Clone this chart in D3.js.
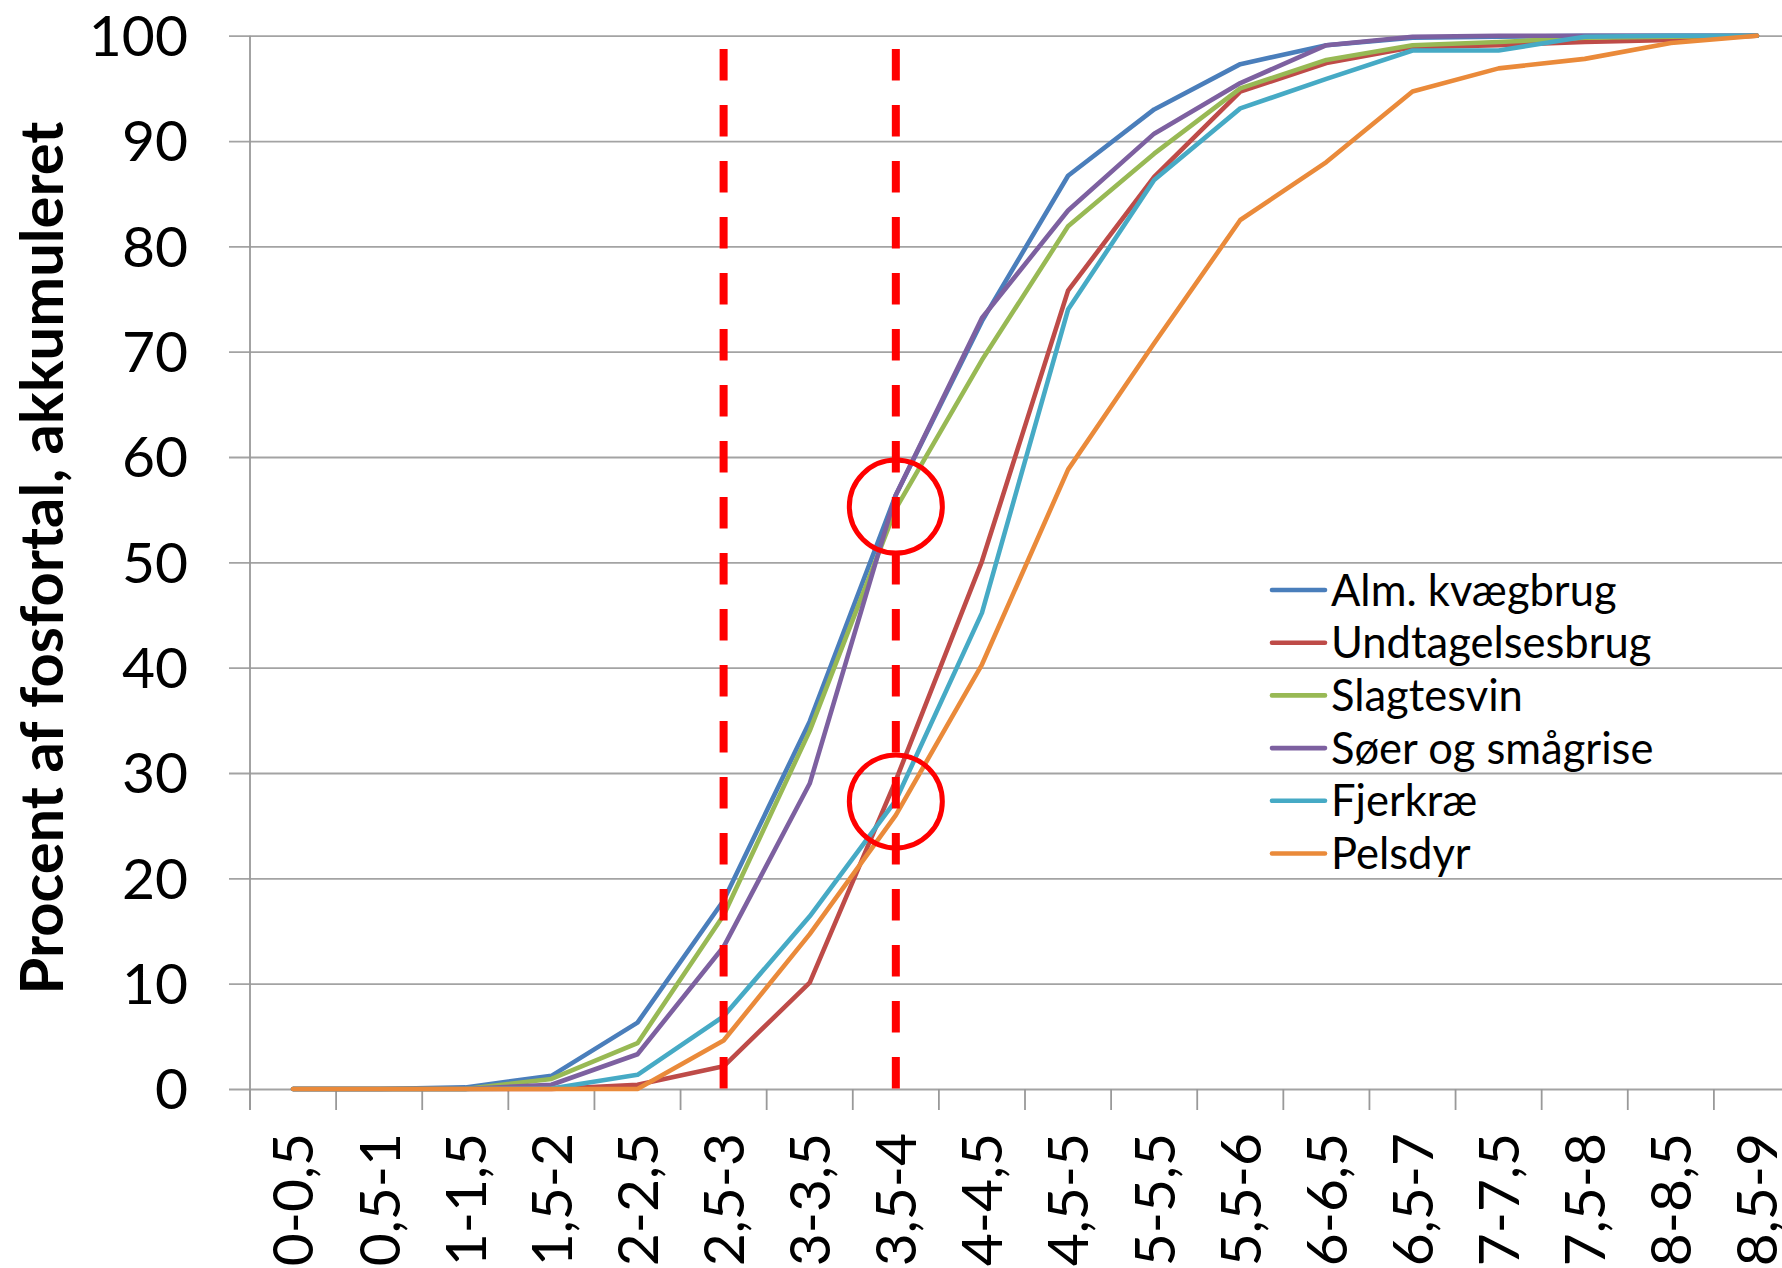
<!DOCTYPE html>
<html>
<head>
<meta charset="utf-8">
<script src="https://cdn.jsdelivr.net/npm/d3@7"></script>
<style>
  html, body { margin: 0; padding: 0; background: #fff; }
  svg { display: block; }
  text { font-family: Lato, "Open Sans", sans-serif; fill: #000; }
</style>
</head>
<body>
<svg id="chart" width="1782" height="1268"></svg>
<script>
// ---------- data ----------
const categories = ["0-0,5","0,5-1","1-1,5","1,5-2","2-2,5","2,5-3","3-3,5","3,5-4","4-4,5","4,5-5",
                    "5-5,5","5,5-6","6-6,5","6,5-7","7-7,5","7,5-8","8-8,5","8,5-9"];
const seriesNames = ["Alm. kvægbrug","Undtagelsesbrug","Slagtesvin","Søer og smågrise","Fjerkræ","Pelsdyr"];
const almKvaegbrug    = [0,0,0.15,1.25,6.3,17.9,34.9,56.4,72.9,86.7,93.0,97.3,99.1,99.8,99.9,100,100,100];
const undtagelsesbrug = [0,0,0,0,0.4,2.15,10.1,29.3,50.1,75.8,86.6,94.7,97.4,98.9,99.1,99.4,99.6,100];
const slagtesvin      = [0,0,0,0.95,4.35,16.5,34.0,55.1,69.2,81.9,88.8,95.0,97.7,99.1,99.4,99.8,99.9,100];
const soerOgSmaagrise = [0,0,0,0.4,3.3,13.5,29.0,56.4,73.2,83.4,90.7,95.5,99.1,99.9,100,100,100,100];
const fjerkrae        = [0,0,0,0.05,1.35,6.9,16.4,27.4,45.2,74.0,86.3,93.1,95.9,98.6,98.6,99.9,100,100];
const pelsdyr         = [0,0,0,0,0,4.6,14.7,26.0,40.3,58.8,70.8,82.5,88.0,94.7,96.9,97.8,99.3,100];
const seriesValues = [almKvaegbrug, undtagelsesbrug, slagtesvin, soerOgSmaagrise, fjerkrae, pelsdyr];
const seriesColors = ["#4A7EBB","#BE4B48","#98B954","#7D60A0","#46AAC5","#EA8A3A"];
const yTicks = [0,10,20,30,40,50,60,70,80,90,100];
const markerCategories = ["2,5-3","3,5-4"];          // dashed red lines
const circleCategory = "3,5-4";
const circleValues = [55.3, 27.3];                    // red circles
const yTitle = "Procent af fosfortal, akkumuleret";

// ---------- layout ----------
const svg = d3.select("#chart");
const W = 1782, H = 1268;
const L = 250, R = 1800, T = 35.7, B = 1089;
svg.append("rect").attr("width", W).attr("height", H).attr("fill", "#fff");

const x = d3.scaleBand().domain(categories).range([L, R]).padding(0);
const y = d3.scaleLinear().domain([0, 100]).range([B, T]);
const bw = x.bandwidth();
const cx = c => x(c) + bw / 2;

// gridlines + y ticks
const yAxis = d3.axisLeft(y).tickValues(yTicks).tickSize(-(R - L + 21)).tickFormat("");
const gy = svg.append("g").attr("transform", `translate(${L - 21},0)`).call(yAxis);
gy.select(".domain").remove();
gy.selectAll(".tick line").attr("stroke", "#a3a3a3").attr("stroke-width", 1.8);

// y axis line
svg.append("line").attr("x1", L).attr("x2", L).attr("y1", y(100)).attr("y2", B + 21)
  .attr("stroke", "#999").attr("stroke-width", 1.8);

// x ticks at category boundaries
const boundaries = categories.map(c => x(c)).concat([x(categories[categories.length - 1]) + bw]);
svg.append("g").selectAll("line").data(boundaries).join("line")
  .attr("x1", d => d).attr("x2", d => d).attr("y1", B).attr("y2", B + 21)
  .attr("stroke", "#999").attr("stroke-width", 1.8);

// y tick labels
svg.append("g").selectAll("text").data(yTicks).join("text")
  .attr("x", 188).attr("y", d => y(d) + 20.4)
  .attr("text-anchor", "end").attr("font-size", 57)
  .text(d => d);

// x tick labels
svg.append("g").selectAll("text").data(categories).join("text")
  .attr("transform", d => `translate(${cx(d) + 20.4},1133) rotate(-90)`)
  .attr("text-anchor", "end").attr("font-size", 57)
  .text(d => d);

// y title
const title = svg.append("text")
  .attr("transform", "translate(63.3,558) rotate(-90)")
  .attr("text-anchor", "middle").attr("font-weight", "bold").attr("font-size", 57)
  .text(yTitle);
const tl = title.node().getComputedTextLength();
if (tl > 0) title.attr("font-size", 57 * 873 / tl);

// series lines
const line = d3.line().x((d, i) => cx(categories[i])).y(d => y(d));
svg.append("g").selectAll("path").data(seriesValues).join("path")
  .attr("d", d => line(d))
  .attr("fill", "none")
  .attr("stroke", (d, i) => seriesColors[i])
  .attr("stroke-width", 4.6)
  .attr("stroke-linejoin", "round")
  .attr("stroke-linecap", "round");

// dashed red lines
svg.append("g").selectAll("line").data(markerCategories).join("line")
  .attr("x1", d => cx(d)).attr("x2", d => cx(d))
  .attr("y1", 49).attr("y2", B)
  .attr("stroke", "#ff0000").attr("stroke-width", 8)
  .attr("stroke-dasharray", "31.5,24.5");

// red circles
svg.append("g").selectAll("circle").data(circleValues).join("circle")
  .attr("cx", cx(circleCategory)).attr("cy", d => y(d)).attr("r", 46.5)
  .attr("fill", "none").attr("stroke", "#ff0000").attr("stroke-width", 5);

// legend
const lg = svg.append("g").selectAll("g").data(seriesNames).join("g")
  .attr("transform", (d, i) => `translate(0,${590 + i * 52.7})`);
lg.append("line").attr("x1", 1272).attr("x2", 1325).attr("y1", 0).attr("y2", 0)
  .attr("stroke", (d, i) => seriesColors[i]).attr("stroke-width", 4.6).attr("stroke-linecap", "round");
lg.append("text").attr("x", 1331).attr("y", 15.5).attr("font-size", 43.5).text(d => d);
</script>
</body>
</html>
